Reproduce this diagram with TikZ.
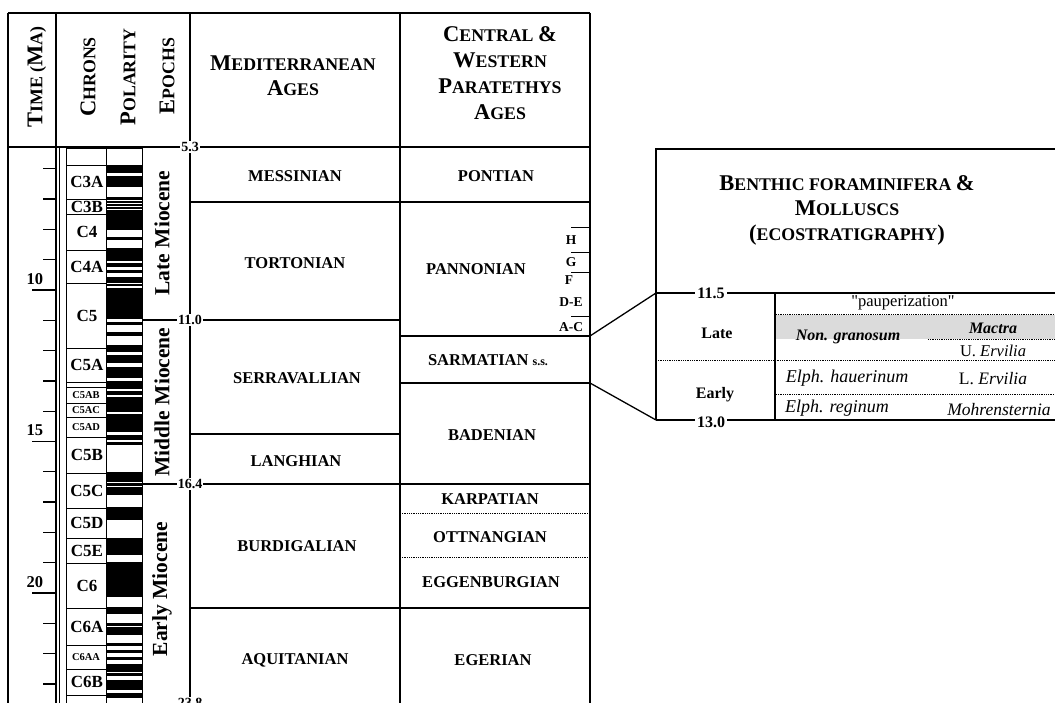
\documentclass[tikz,border=0pt]{standalone}
\usepackage{fontspec}
\setmainfont{Liberation Serif}
\newfontfamily\qfont{Liberation Serif}
\newcommand\hb[1]{{\fontsize{22.5}{25}\selectfont #1}}
\newcommand\fsz[1]{\fontsize{#1}{#1}\selectfont}
\begin{document}
\begin{tikzpicture}[x=1pt,y=-1pt,
  ln/.style={line width=1.3pt},
  thn/.style={line width=0.9pt},
  dots/.style={line width=0.8pt, densely dotted},
  hdr/.style={inner sep=0pt, align=center, font=\bfseries\fontsize{17.8}{25}\selectfont},
  age/.style={inner sep=0pt, font=\bfseries\fsz{16.5}},
  chr/.style={inner sep=0pt, font=\bfseries\fsz{17}},
  chs/.style={inner sep=0pt, font=\bfseries\fsz{10.5}},
  ep/.style={inner sep=0pt, rotate=90, font=\bfseries\fsz{21.5}},
  num/.style={inner sep=1.2pt, fill=white, font=\bfseries\fsz{14}},
  tk/.style={inner sep=0pt, font=\bfseries\fsz{16.5}},
  sub/.style={inner sep=0pt, font=\bfseries\fsz{13.5}},
  it/.style={inner sep=0pt, font=\itshape\fsz{18}},
  rm/.style={inner sep=0pt, font=\fsz{16.5}}]
\useasboundingbox[fill=white] (0,0) rectangle (1055,703);

% ---------- polarity column ----------
\foreach \a/\b in {165/173,176/187,197/200,201.5/203,204.5/206,207.5/209,210.5/230,
  237/240,248/261.5,263/267.5,270.5/273,277/283,284.5/286.5,288/319,322/325,332/336,
  345/352,355/363,367/378,381/389,391/395,397/412,414/432,435/440,442/445,472/482,
  483/486,487/495,507/520,538/555,562/597,607/614,623/626,627/635,643/646,650/653,
  657/660,664/672,673/676,680/690,693/698}
  \fill (106,\a) rectangle (142,\b);
\draw[thn] (106,148) rectangle (142,712);

% ---------- chrons ----------
\foreach \a/\b/\t in {148/165/{},165/199/C3A,199/214/C3B,214/250/C4,250/283/C4A,
  283/348/C5,348/382/C5A,382/387/{},437/473/C5B,473/508/C5C,508/538/C5D,538/563/C5E,
  563/608/C6,608/645/C6A,669/695/C6B,695/712/{}}
  {\draw[thn] (66,\a) rectangle (106,\b);
   \node[chr] at (87,{(\a+\b)/2}) {\t};}
\foreach \a/\b/\t in {387/403/C5AB,403/417/C5AC,417/437/C5AD,645/669/C6AA}
  {\draw[thn] (66,\a) rectangle (106,\b);
   \node[chs] at (86,{(\a+\b)/2+0.5}) {\t};}

% ---------- frame ----------
\draw[ln] (8,13) -- (590,13);
\draw[ln] (8,13) -- (8,703);
\draw[ln] (56,13) -- (56,703);
\draw[thn] (59,147) -- (59,703);
\draw[ln] (190,13) -- (190,703);
\draw[ln] (400,13) -- (400,703);
\draw[ln] (590,13) -- (590,703);
\draw[ln] (8,147) -- (590,147);

% ---------- time ticks ----------
\foreach \t in {6,7,8,9,11,12,13,14,16,17,18,19,21,22,23}
  \draw[ln] (43,{290+(\t-10)*30.3}) -- (56,{290+(\t-10)*30.3});
\foreach \t in {10,15,20}
  {\draw[ln] (32,{290+(\t-10)*30.3}) -- (56,{290+(\t-10)*30.3});
   \node[tk] (t\t) at (35,{290+(\t-10)*30.3-11}) {\t};}

% ---------- boundaries ----------
\draw[ln] (142,320) -- (400,320);
\draw[ln] (142,484) -- (590,484);
\draw[ln] (190,202) -- (590,202);
\draw[ln] (190,434) -- (400,434);
\draw[ln] (190,608) -- (590,608);
\draw[ln] (400,336) -- (590,336);
\draw[ln] (400,383) -- (590,383);
\draw[dots] (400,513) -- (590,513);
\draw[dots] (400,557) -- (590,557);
\foreach \y in {227,252,272,316} \draw[thn] (571,\y) -- (590,\y);

\node[num] (b53) at (190,147) {5.3};
\node[num] (b110) at (190,320) {11.0};
\node[num] (b164) at (190,484) {16.4};
\node[num, anchor=north] (b238) at (190,697) {23.8};

% ---------- epochs ----------
\node[ep] (late) at (162,233) {Late Miocene};
\node[ep] (mid) at (162,402) {Middle Miocene};
\node[ep] (early) at (162,589) {Early Miocene};

% ---------- headers ----------
\node[hdr, rotate=90] (hT) at (37,77) {\hb{T}IME (\hb{M}A)};
\node[hdr, rotate=90] (hC) at (88,77) {\hb{C}HRONS};
\node[hdr, rotate=90] (hP) at (128,77) {\hb{P}OLARITY};
\node[hdr, rotate=90] (hE) at (167,76) {\hb{E}POCHS};
\node[hdr] (hM) at (293,76) {\hb{M}EDITERRANEAN\\\hb{A}GES};
\node[hdr, font=\bfseries\fontsize{17.8}{26}\selectfont] (hPa) at (500,73)
  {\hb{C}ENTRAL \hb{\&}\\\hb{W}ESTERN\\\hb{P}ARATETHYS\\\hb{A}GES};

% ---------- Mediterranean ages ----------
\node[age] (mes) at (295,176) {MESSINIAN};
\node[age] (tor) at (295,263) {TORTONIAN};
\node[age] (ser) at (297,378) {SERRAVALLIAN};
\node[age] (lan) at (296,461) {LANGHIAN};
\node[age] (bur) at (297,546) {BURDIGALIAN};
\node[age] (aqu) at (295,660) {AQUITANIAN};

% ---------- Paratethys ages ----------
\node[age] (pon) at (496,176) {PONTIAN};
\node[age] (pan) at (476,269) {PANNONIAN};
\node[age] (sar) at (488,360) {SARMATIAN {\fsz{12}s.s.}};
\node[age] (bad) at (492,435) {BADENIAN};
\node[age] (kar) at (490,499) {KARPATIAN};
\node[age] (ott) at (490,537) {OTTNANGIAN};
\node[age] (egg) at (491,582) {EGGENBURGIAN};
\node[age] (ege) at (493,660) {EGERIAN};
\node[sub] at (571,240) {H};
\node[sub] at (571,262) {G};
\node[sub] at (569,280) {F};
\node[sub] at (571,302) {D-E};
\node[sub] at (571,327) {A-C};

% ---------- right panel ----------
\fill[gray!28] (776,315) rectangle (1055,339);
\draw[ln] (1060,149) -- (656,149) -- (656,420);
\node[hdr] (title) at (847,210)
  {\hb{B}ENTHIC FORAMINIFERA \hb{\&}\\\hb{M}OLLUSCS\\\hb{(}ECOSTRATIGRAPHY\hb{)}};
\draw[ln] (656,293) -- (1060,293);
\draw[ln] (656,420) -- (1060,420);
\draw[ln] (775,293) -- (775,420);
\draw[dots] (776,314) -- (1055,314);
\draw[dots] (928,339) -- (1055,339);
\draw[dots] (656,360) -- (1055,360);
\draw[dots] (776,394) -- (1055,394);
\node[num, font=\bfseries\fsz{16}, inner sep=2pt] (n115) at (711,293) {11.5};
\node[num, font=\bfseries\fsz{16}, inner sep=2pt] (n130) at (711,422) {13.0};
\node[rm, font=\qfont\fsz{16.5}] (pau) at (903,303) {"pauperization"};
\node[age, font=\bfseries\fsz{16}] (lt) at (717,333) {Late};
\node[age, font=\bfseries\fsz{16}] (er) at (715,395) {Early};
\node[inner sep=0pt, font=\bfseries\itshape\fsz{16}] (non) at (848,337) {Non. granosum};
\node[inner sep=0pt, font=\bfseries\itshape\fsz{16}] (mac) at (993,328) {Mactra};
\node[rm] (uer) at (993,351) {U. \textit{Ervilia}};
\node[it] (hau) at (847,378) {Elph. hauerinum};
\node[rm, font=\fsz{17.5}] (ler) at (993,379) {L. \textit{Ervilia}};
\node[it] (reg) at (837,408) {Elph. reginum};
\node[it, font=\itshape\fsz{17.5}] (moh) at (999,410) {Mohrensternia};

% ---------- connectors ----------
\coordinate (sarT) at (590,336);
\coordinate (sarB) at (590,383);
\coordinate (p115) at (656,293);
\coordinate (p130) at (656,420);
\draw[ln] (sarT) -- (p115);
\draw[ln] (sarB) -- (p130);
\end{tikzpicture}
\end{document}
